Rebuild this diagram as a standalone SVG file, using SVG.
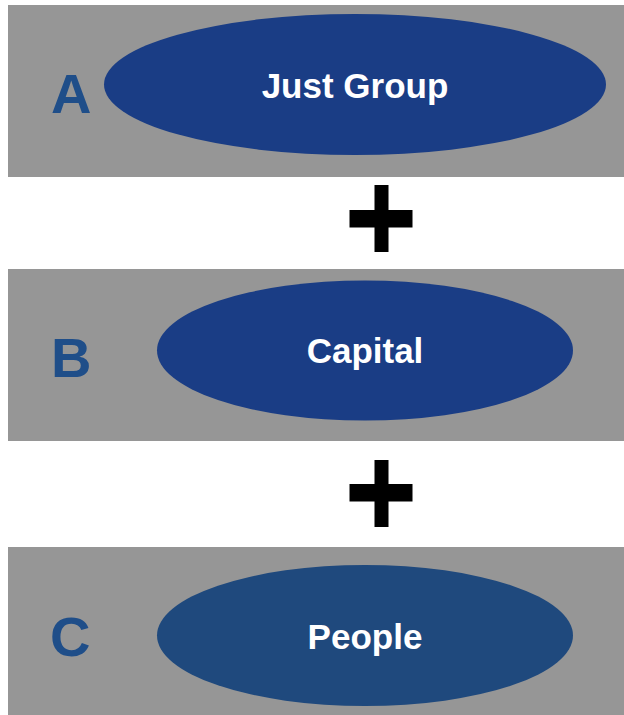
<svg xmlns="http://www.w3.org/2000/svg" width="624" height="715" viewBox="0 0 624 715">
  <style>
    .band { fill: #969696; }
    .oval { fill: #1A3D85; }
    .oval-c { fill: #1F497D; }
    .key { font-family: "Liberation Sans", Arial, sans-serif; font-weight: bold; font-size: 56px; fill: #1F4E89; }
    .label { font-family: "Liberation Sans", Arial, sans-serif; font-weight: bold; font-size: 35px; fill: #FFFFFF; text-anchor: middle; }
    .plus { fill: #000000; }
  </style>
  <rect width="624" height="715" fill="#FFFFFF"/>

  <!-- Row A -->
  <g id="row-a">
    <rect class="band" x="8" y="5" width="616" height="172"/>
    <text class="key" x="51" y="113">A</text>
    <ellipse class="oval" cx="355" cy="84.5" rx="251" ry="70.5"/>
    <text class="label" x="355" y="98">Just Group</text>
  </g>

  <!-- Row B -->
  <g id="row-b">
    <rect class="band" x="8" y="269" width="616" height="172"/>
    <text class="key" x="51" y="377">B</text>
    <ellipse class="oval" cx="365" cy="350.5" rx="208" ry="70"/>
    <text class="label" x="365" y="363">Capital</text>
  </g>

  <!-- Row C -->
  <g id="row-c">
    <rect class="band" x="8" y="547" width="616" height="168"/>
    <text class="key" x="50" y="656">C</text>
    <ellipse class="oval-c" cx="365" cy="635.5" rx="208" ry="70.5"/>
    <text class="label" x="365" y="649">People</text>
  </g>

  <!-- Plus signs joining the rows -->
  <g id="connectors">
    <g class="plus">
      <rect x="374.5" y="185" width="14" height="67"/>
      <rect x="349.5" y="210" width="63" height="17.5"/>
    </g>
    <g class="plus">
      <rect x="374.5" y="460" width="14" height="67"/>
      <rect x="349.5" y="484" width="63" height="17.5"/>
    </g>
  </g>
</svg>
